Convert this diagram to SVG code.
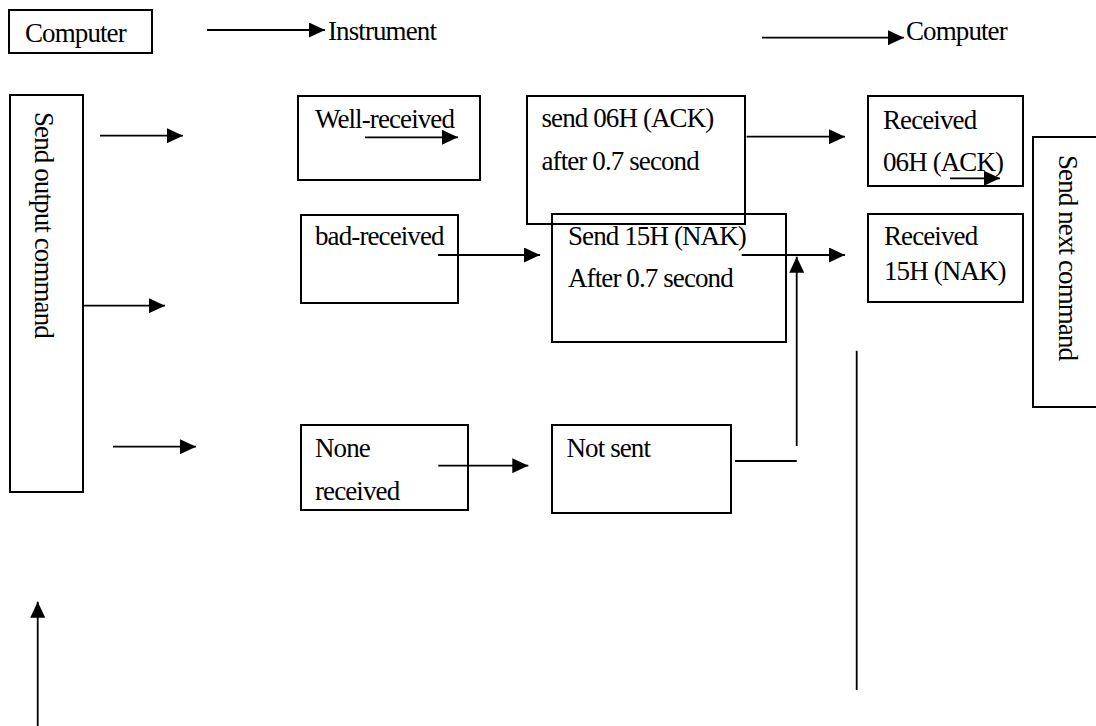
<svg xmlns="http://www.w3.org/2000/svg" width="1096" height="726" viewBox="0 0 1096 726">
  <style>
    .box { fill: none; stroke: #000; stroke-width: 2; }
    .lbl { font-family: "Liberation Serif", "Times New Roman", serif; font-size: 27px; letter-spacing: -0.9px; fill: #000; }
    .ln { fill: none; stroke: #000; stroke-width: 1.8; }
    .arr { fill: none; stroke: #000; stroke-width: 1.8; marker-end: url(#head); }
  </style>
  <defs>
    <marker id="head" markerUnits="userSpaceOnUse" markerWidth="16" markerHeight="15" refX="16" refY="7.5" orient="auto">
      <path d="M0,0 L16,7.5 L0,15 Z" fill="#000"/>
    </marker>
  </defs>
  <rect width="1096" height="726" fill="#fff"/>

  <!-- header legend -->
  <g id="legend-computer">
    <rect class="box" x="9" y="10" width="143" height="43"/>
    <text class="lbl" x="25" y="41.5">Computer</text>
  </g>
  <g id="legend-instrument">
    <text class="lbl" x="328" y="40">Instrument</text>
  </g>
  <g id="legend-computer-2">
    <text class="lbl" x="906" y="40">Computer</text>
  </g>

  <g id="send-output">
    <rect class="box" x="10" y="95" width="73" height="397"/>
    <text class="lbl" transform="translate(35,112) rotate(90)">Send output command</text>
  </g>

  <g id="well-received">
    <rect class="box" x="298" y="96" width="182" height="84"/>
    <text class="lbl" x="315" y="127.5">Well-received</text>
  </g>
  <g id="bad-received">
    <rect class="box" x="301" y="215" width="157" height="88"/>
    <text class="lbl" x="315" y="245">bad-received</text>
  </g>
  <g id="none-received">
    <rect class="box" x="301" y="425" width="167" height="85"/>
    <text class="lbl" x="315" y="456.5">None</text>
    <text class="lbl" x="315" y="499.5">received</text>
  </g>

  <g id="send-ack">
    <rect class="box" x="527" y="96" width="218" height="128"/>
    <text class="lbl" x="541.5" y="126.5">send 06H (ACK)</text>
    <text class="lbl" x="541.5" y="169.5">after 0.7 second</text>
  </g>
  <g id="send-nak">
    <rect class="box" x="552" y="214" width="234" height="128"/>
    <text class="lbl" x="568" y="245">Send 15H (NAK)</text>
    <text class="lbl" x="568" y="286.5">After 0.7 second</text>
  </g>
  <g id="not-sent">
    <rect class="box" x="552" y="425" width="179" height="88"/>
    <text class="lbl" x="566.5" y="456.5">Not sent</text>
  </g>

  <g id="received-ack">
    <rect class="box" x="868" y="96" width="155" height="90"/>
    <text class="lbl" x="883" y="128.5">Received</text>
    <text class="lbl" x="883" y="170.5">06H (ACK)</text>
  </g>
  <g id="received-nak">
    <rect class="box" x="868" y="214" width="155" height="88"/>
    <text class="lbl" x="884" y="245">Received</text>
    <text class="lbl" x="884" y="280">15H (NAK)</text>
  </g>

  <g id="send-next">
    <rect class="box" x="1033" y="137" width="64" height="270"/>
    <text class="lbl" transform="translate(1059,155) rotate(90)">Send next command</text>
  </g>

  <g id="connectors">
    <line class="arr" x1="207" y1="30" x2="325" y2="30"/>
    <line class="arr" x1="762" y1="37.7" x2="904" y2="37.7"/>
    <line class="arr" x1="100" y1="135.7" x2="183" y2="135.7"/>
    <line class="arr" x1="83" y1="305.7" x2="165" y2="305.7"/>
    <line class="arr" x1="113" y1="446.7" x2="196" y2="446.7"/>
    <line class="arr" x1="365" y1="137.3" x2="458" y2="137.3"/>
    <line class="arr" x1="438" y1="255" x2="540" y2="255"/>
    <line class="arr" x1="746.7" y1="136.7" x2="845" y2="136.7"/>
    <line class="arr" x1="741.7" y1="255" x2="845" y2="255"/>
    <line class="arr" x1="950" y1="178.3" x2="1000" y2="178.3"/>
    <line class="arr" x1="438.3" y1="465.7" x2="528.3" y2="465.7"/>
    <line class="ln" x1="735" y1="461" x2="796.7" y2="461"/>
    <line class="arr" x1="796.7" y1="446" x2="796.7" y2="256.7"/>
    <line class="ln" x1="856.7" y1="350.7" x2="856.7" y2="690"/>
    <line class="arr" x1="37.7" y1="726" x2="37.7" y2="601.7"/>
  </g>
</svg>
